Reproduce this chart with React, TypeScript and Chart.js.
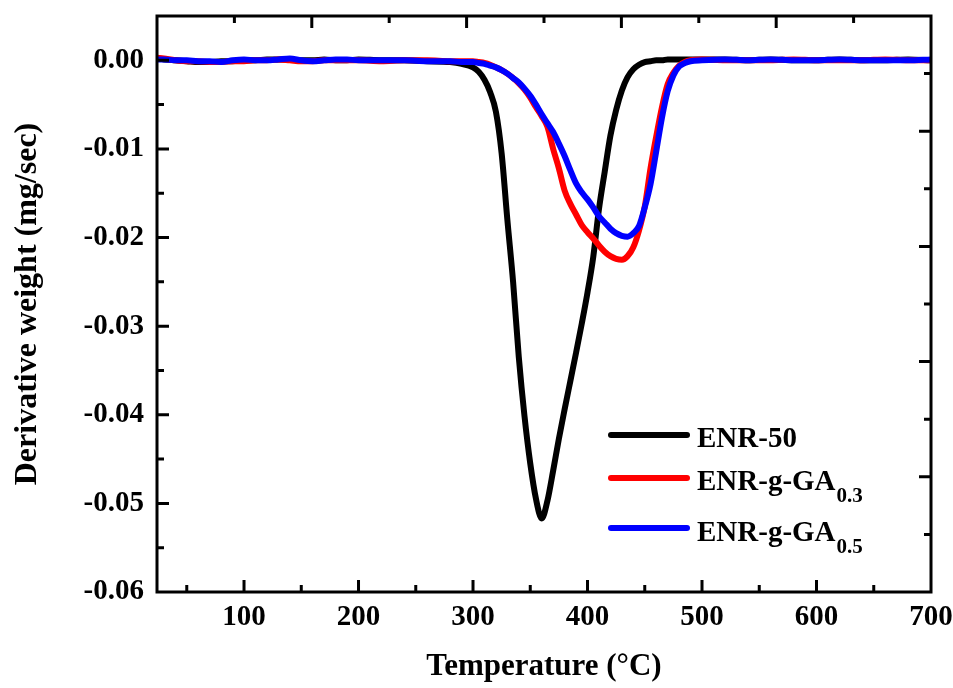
import React, { useEffect, useRef } from "react";
import { Chart, registerables } from "chart.js";

Chart.register(...registerables);

// ---------------- data ----------------
const temperatures = [
  24, 30, 40, 50, 60, 70, 80, 90, 100, 110, 120, 130, 140, 150, 160, 170, 180, 190, 200, 220, 240, 260, 280, 290,
  300, 305, 310, 315, 320, 325, 330, 335, 340, 345, 350, 355, 360, 365, 370, 375, 380, 385, 390, 395, 400, 405,
  410, 415, 420, 425, 430, 435, 440, 445, 450, 455, 460, 465, 470, 475, 480, 485, 490,
  500, 520, 540, 560, 580, 600, 620, 640, 660, 680, 700,
];

const enr50 = [
  0.0002, 0.0001, 0.0, -0.0001, -0.0002, -0.0002, -0.0001, -0.0001, 0.0, 0.0, 0.0001, 0.0001, 0.0001, 0.0, 0.0, 0.0001,
  0.0, 0.0, 0.0001, 0.0, 0.0, -0.0001, -0.0002, -0.0004,
  -0.0008, -0.0013, -0.0022, -0.0036, -0.0058, -0.0105, -0.018, -0.025, -0.0335, -0.0402, -0.0455, -0.0495, -0.0517,
  -0.0497, -0.0463, -0.0427, -0.0394, -0.0362, -0.033, -0.0297, -0.0262, -0.0222, -0.0168, -0.0126, -0.0085, -0.0056,
  -0.0034, -0.0019, -0.001, -0.0005, -0.0002, -0.0001, 0.0, 0.0, 0.0001, 0.0001, 0.0001, 0.0001, 0.0001,
  0.0001, 0.0001, 0.0, 0.0001, 0.0, 0.0, 0.0001, 0.0, 0.0, 0.0001, 0.0,
];

const enrGA03 = [
  0.0003, 0.0002, 0.0, -0.0001, -0.0001, -0.0002, -0.0002, -0.0001, -0.0001, 0.0, 0.0, 0.0001, 0.0, -0.0001, -0.0001,
  0.0, 0.0, 0.0, 0.0, -0.0001, 0.0, 0.0, -0.0001, -0.0001,
  -0.0001, -0.0002, -0.0003, -0.0005, -0.0008, -0.0011, -0.0015, -0.002, -0.0026, -0.0033, -0.0042, -0.0053, -0.0063,
  -0.0075, -0.01, -0.0122, -0.0147, -0.0162, -0.0174, -0.0186, -0.0194, -0.0201, -0.0209, -0.0216, -0.0221, -0.0224,
  -0.0225, -0.0221, -0.0211, -0.0192, -0.0165, -0.0122, -0.0086, -0.0053, -0.0027, -0.0014, -0.0006, -0.0002, 0.0,
  0.0001, 0.0, 0.0, 0.0, 0.0001, 0.0, 0.0, 0.0, 0.0001, 0.0, 0.0,
];

const enrGA05 = [
  0.0001, 0.0001, 0.0, 0.0, -0.0001, -0.0001, -0.0002, 0.0, 0.0001, 0.0, 0.0, 0.0001, 0.0002, 0.0, -0.0001, 0.0,
  0.0001, 0.0001, 0.0, 0.0, 0.0, -0.0001, -0.0001, -0.0002,
  -0.0002, -0.0003, -0.0004, -0.0006, -0.0008, -0.0011, -0.0015, -0.002, -0.0025, -0.0032, -0.004, -0.005, -0.0061,
  -0.0071, -0.0081, -0.0094, -0.0108, -0.0124, -0.0139, -0.0149, -0.0157, -0.0166, -0.0176, -0.0183, -0.019, -0.0195,
  -0.0198, -0.0199, -0.0195, -0.0187, -0.0166, -0.014, -0.0103, -0.0065, -0.0035, -0.0017, -0.0007, -0.0003, -0.0001,
  0.0, 0.0001, 0.0, 0.0001, 0.0, 0.0, 0.0001, 0.0, 0.0, 0.0, 0.0001,
];

const seriesNames = ["ENR-50", "ENR-g-GA", "ENR-g-GA"];
const seriesSubscripts = ["", "0.3", "0.5"];
const seriesColors = ["#000000", "#ff0000", "#0000ff"];

const xMajorTicks = [100, 200, 300, 400, 500, 600, 700];
const xMinorTicks = [50, 150, 250, 350, 450, 550, 650];
const yMajorTicks = [0, -0.01, -0.02, -0.03, -0.04, -0.05, -0.06];
const yMinorTicks = [-0.005, -0.015, -0.025, -0.035, -0.045, -0.055];

const X_MIN = 24;
const X_MAX = 700;
const Y_MIN = -0.06;
const Y_MAX = 0.005;

const FONT = "'Liberation Serif', 'Times New Roman', Times, serif";

const framePlugin = {
  id: "frameTicksLegend",
  afterDraw(chart: any) {
    const { ctx, chartArea, scales } = chart;
    const { left, right, top, bottom } = chartArea;
    const xs = scales.x;
    const ys = scales.y;
    ctx.save();
    ctx.strokeStyle = "#000";
    ctx.lineWidth = 3;
    ctx.lineJoin = "miter";
    ctx.lineCap = "butt";
    ctx.strokeRect(left, top, right - left, bottom - top);

    const MAJ = 12;
    const MIN = 7;
    ctx.beginPath();
    xMajorTicks.forEach((v) => {
      const p = xs.getPixelForValue(v);
      if (p > left + 2 && p < right - 2) {
        ctx.moveTo(p, bottom);
        ctx.lineTo(p, bottom - MAJ);
      }
    });
    xMinorTicks.forEach((v) => {
      const p = xs.getPixelForValue(v);
      if (p > left + 2 && p < right - 2) {
        ctx.moveTo(p, bottom);
        ctx.lineTo(p, bottom - MIN);
      }
    });
    yMajorTicks.forEach((v) => {
      const p = ys.getPixelForValue(v);
      if (p > top + 2 && p < bottom - 2) {
        ctx.moveTo(left, p);
        ctx.lineTo(left + MAJ, p);
      }
    });
    yMinorTicks.forEach((v) => {
      const p = ys.getPixelForValue(v);
      if (p > top + 2 && p < bottom - 2) {
        ctx.moveTo(left, p);
        ctx.lineTo(left + MIN, p);
      }
    });
    for (let i = 1; i < 10; i++) {
      const len = i % 2 === 0 ? MAJ : MIN;
      const px = left + ((right - left) * i) / 10;
      ctx.moveTo(px, top);
      ctx.lineTo(px, top + len);
      const py = top + ((bottom - top) * i) / 10;
      ctx.moveTo(right, py);
      ctx.lineTo(right - len, py);
    }
    ctx.stroke();

    // legend
    const rows = [435, 478, 528];
    const baselines = [447, 490, 541];
    ctx.lineWidth = 6;
    ctx.lineCap = "round";
    rows.forEach((ry, i) => {
      ctx.strokeStyle = seriesColors[i];
      ctx.beginPath();
      ctx.moveTo(611, ry);
      ctx.lineTo(687, ry);
      ctx.stroke();
      ctx.fillStyle = "#000";
      ctx.textBaseline = "alphabetic";
      ctx.textAlign = "left";
      ctx.font = `bold 29px ${FONT}`;
      const tx = 697;
      ctx.fillText(seriesNames[i], tx, baselines[i]);
      if (seriesSubscripts[i]) {
        const w = ctx.measureText(seriesNames[i]).width;
        ctx.font = `bold 21px ${FONT}`;
        ctx.fillText(seriesSubscripts[i], tx + w + 1, baselines[i] + 12);
      }
    });
    ctx.restore();
  },
};

export default function App() {
  const canvasRef = useRef<HTMLCanvasElement | null>(null);

  useEffect(() => {
    const canvas = canvasRef.current;
    if (!canvas) return;
    const mk = (arr: number[]) => temperatures.map((t, i) => ({ x: t, y: arr[i] }));
    const lineStyle = {
      borderWidth: 6,
      pointRadius: 0,
      cubicInterpolationMode: "monotone",
      borderCapStyle: "round",
      borderJoinStyle: "round",
    };
    const chart = new Chart(canvas, {
      type: "line",
      data: {
        datasets: [
          { label: "ENR-g-GA0.5", data: mk(enrGA05), borderColor: seriesColors[2], backgroundColor: seriesColors[2], ...lineStyle },
          { label: "ENR-g-GA0.3", data: mk(enrGA03), borderColor: seriesColors[1], backgroundColor: seriesColors[1], ...lineStyle },
          { label: "ENR-50", data: mk(enr50), borderColor: seriesColors[0], backgroundColor: seriesColors[0], ...lineStyle },
        ],
      },
      options: {
        animation: false,
        responsive: false,
        devicePixelRatio: 1,
        events: [],
        layout: { padding: { left: 0, right: 22, top: 16, bottom: 0 } },
        plugins: {
          legend: { display: false },
          tooltip: { enabled: false },
          title: { display: false },
        },
        scales: {
          x: {
            type: "linear",
            min: X_MIN,
            max: X_MAX,
            grid: { display: false, drawTicks: false },
            border: { display: false },
            afterBuildTicks: (scale: any) => {
              scale.ticks = xMajorTicks.map((v) => ({ value: v }));
            },
            afterFit: (scale: any) => {
              scale.height = 96;
              scale.paddingLeft = 0;
              scale.paddingRight = 0;
            },
            ticks: {
              color: "#000",
              padding: 8,
              maxRotation: 0,
              autoSkip: false,
              font: { family: FONT, size: 29, weight: "bold" },
              callback: (v: any) => String(v),
            },
            title: {
              display: true,
              text: "Temperature (°C)",
              color: "#000",
              padding: { top: 0, bottom: 2 },
              font: { family: FONT, size: 31, weight: "bold" },
            },
          },
          y: {
            type: "linear",
            min: Y_MIN,
            max: Y_MAX,
            grid: { display: false, drawTicks: false },
            border: { display: false },
            afterBuildTicks: (scale: any) => {
              scale.ticks = yMajorTicks.map((v) => ({ value: v }));
            },
            afterFit: (scale: any) => {
              scale.width = 157;
              scale.paddingTop = 0;
              scale.paddingBottom = 0;
            },
            ticks: {
              color: "#000",
              padding: 13,
              autoSkip: false,
              font: { family: FONT, size: 29, weight: "bold" },
              callback: (v: any) => Number(v).toFixed(2),
            },
            title: {
              display: true,
              text: "Derivative weight (mg/sec)",
              color: "#000",
              padding: { top: 9, bottom: 0 },
              font: { family: FONT, size: 32, weight: "bold" },
            },
          },
        },
      },
      plugins: [framePlugin],
    } as any);
    return () => chart.destroy();
  }, []);

  return (
    <div style={{ position: "fixed", left: 0, top: 0, width: 953, height: 688, background: "#fff" }}>
      <canvas ref={canvasRef} width={953} height={688} style={{ display: "block" }} />
    </div>
  );
}
